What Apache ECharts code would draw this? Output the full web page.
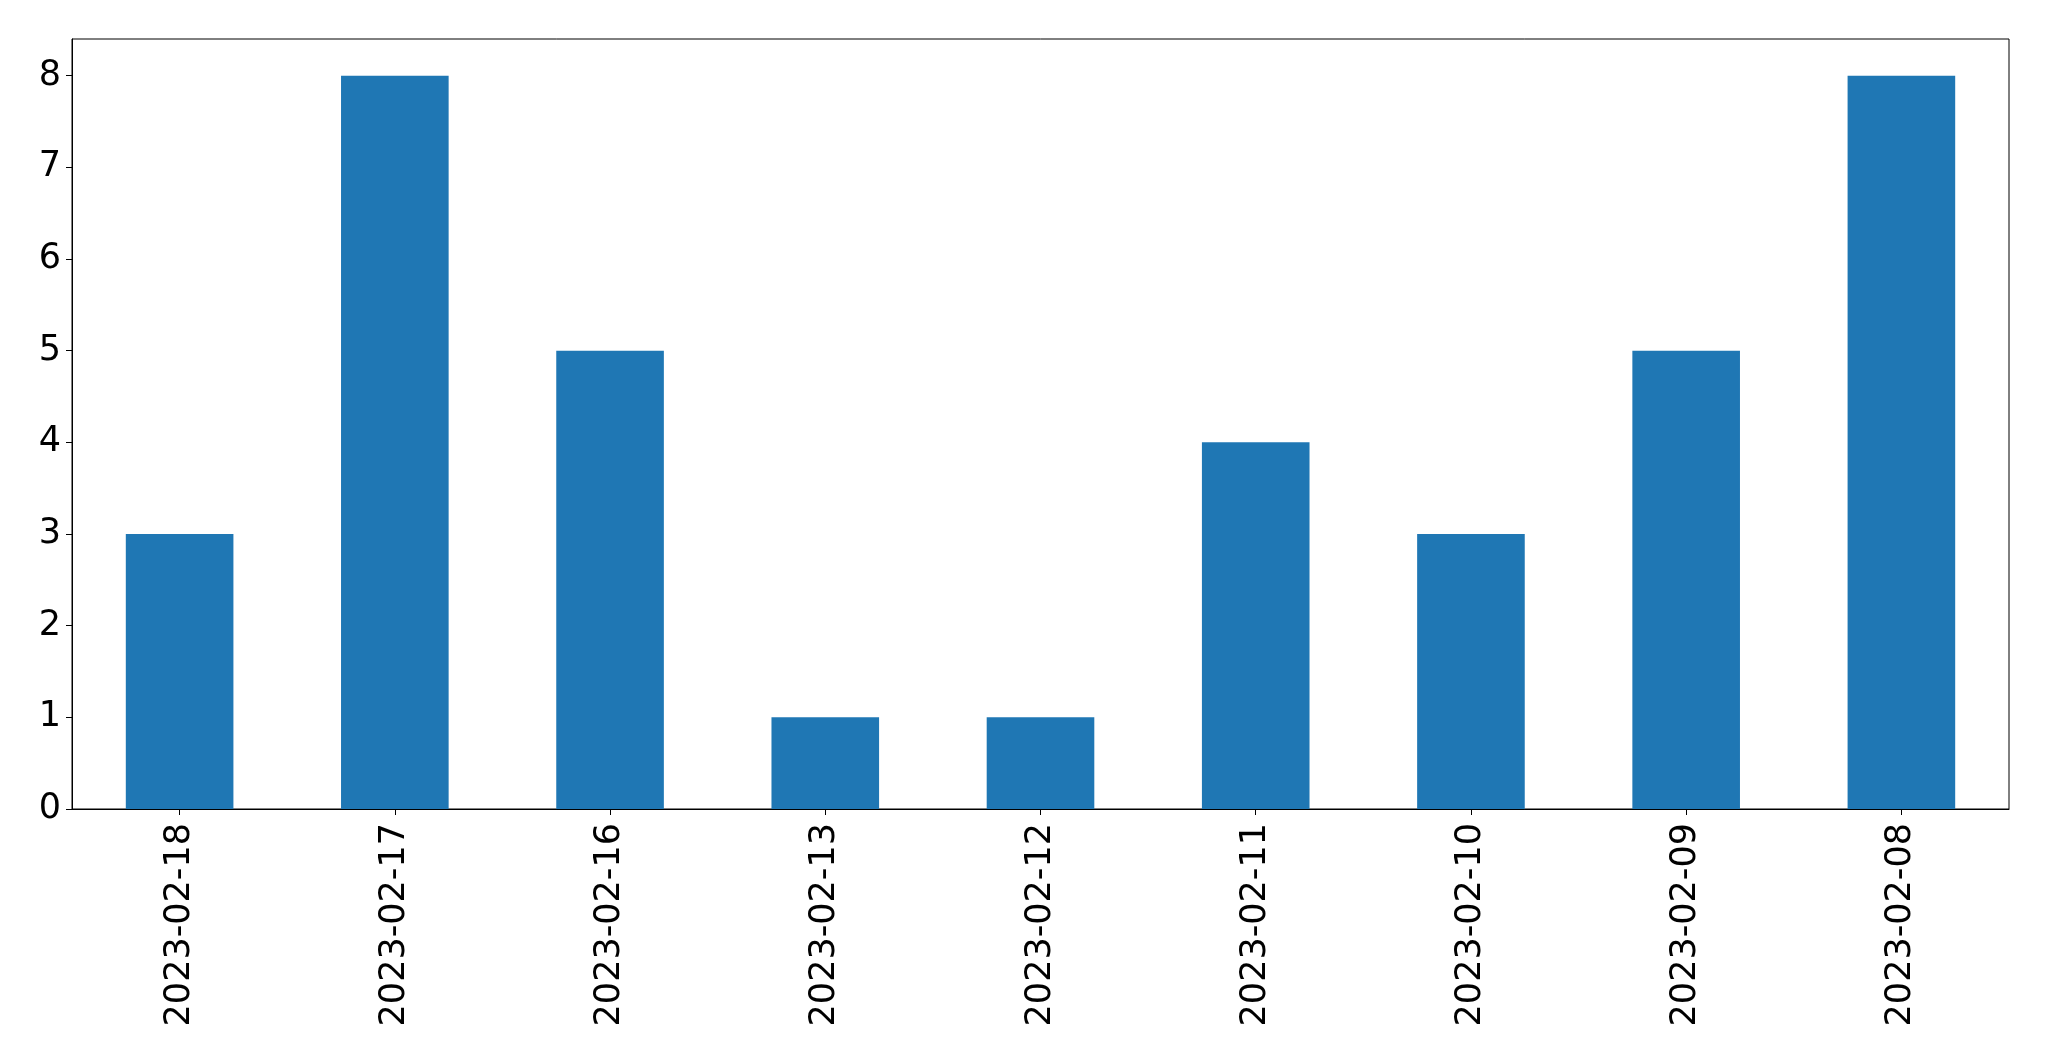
<!DOCTYPE html>
<html>
<head>
<meta charset="utf-8">
<script src="https://cdn.jsdelivr.net/npm/echarts@6/dist/echarts.min.js"></script>
<style>html,body{margin:0;padding:0;background:#fff;}#chart{width:2049px;height:1061px;}</style>
</head>
<body>
<div id="chart"></div>
<script>
const categories = ['2023-02-18','2023-02-17','2023-02-16','2023-02-13','2023-02-12','2023-02-11','2023-02-10','2023-02-09','2023-02-08'];
const values = [3, 8, 5, 1, 1, 4, 3, 5, 8];
const yTicks = [0, 1, 2, 3, 4, 5, 6, 7, 8];

const chart = echarts.init(document.getElementById('chart'), null, {renderer: 'canvas'});
const font = 'DejaVu Sans';
chart.setOption({
  animation: false,
  backgroundColor: '#ffffff',
  grid: {left: 72, right: 40, top: 39, bottom: 252, show: true, borderColor: '#000', borderWidth: 1, backgroundColor: 'transparent'},
  xAxis: {
    type: 'category',
    data: categories,
    axisLine: {show: true, lineStyle: {color: '#000', width: 1}},
    axisTick: {show: true, alignWithLabel: true, length: 6, lineStyle: {color: '#000', width: 1}},
    axisLabel: {rotate: 90, interval: 0, color: '#000', fontFamily: font, fontSize: 35, margin: 14},
    splitLine: {show: false}
  },
  yAxis: {
    type: 'value',
    min: 0,
    max: 8.4,
    interval: 1,
    axisLine: {show: true, lineStyle: {color: '#000', width: 1}},
    axisTick: {show: true, length: 6, lineStyle: {color: '#000', width: 1}, customValues: yTicks},
    axisLabel: {color: '#000', fontFamily: font, fontSize: 35, margin: 11, customValues: yTicks},
    splitLine: {show: false}
  },
  series: [{
    type: 'bar',
    data: values,
    barWidth: '50%',
    itemStyle: {color: '#1f77b4'}
  }]
});
</script>
</body>
</html>
